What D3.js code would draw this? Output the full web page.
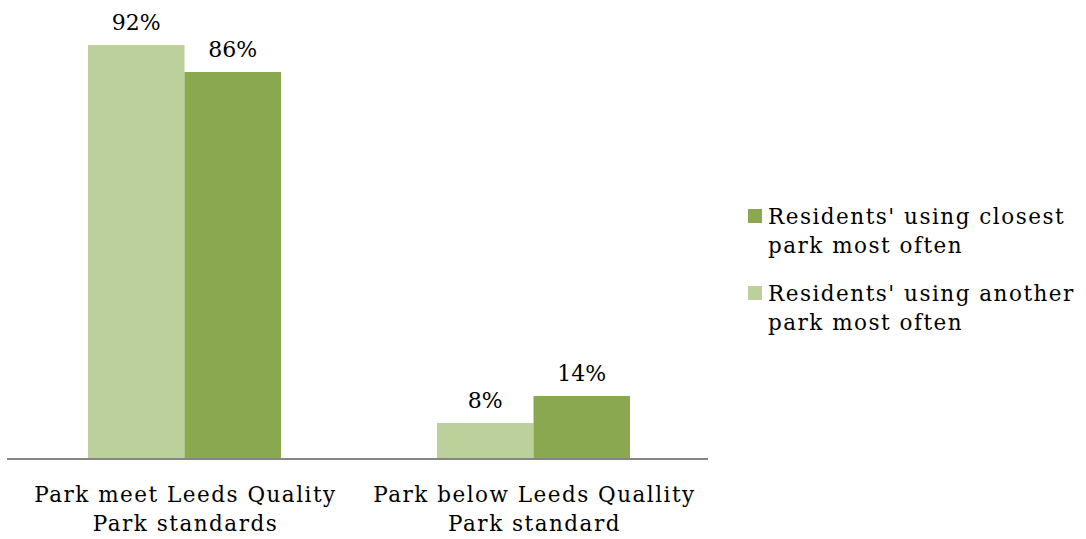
<!DOCTYPE html>
<html>
<head>
<meta charset="utf-8">
<script src="https://cdn.jsdelivr.net/npm/d3@7"></script>
<style>
  body { margin: 0; background: #fff; }
  text { font-family: "DejaVu Serif", serif; fill: #000; }
  .spaced { font-size: 21.5px; letter-spacing: 1.5px; }
</style>
</head>
<body>
<svg id="chart" width="1086" height="539"></svg>
<script>
const categories = [
	["Park meet Leeds Quality", "Park standards"],
	["Park below Leeds Quallity", "Park standard"]
];
const seriesNames = ["another", "closest"];
const anotherPark = [92, 8];
const closestPark = [86, 14];
const legendLabels = [
	["Residents' using closest", "park most often"],
	["Residents' using another", "park most often"]
];
const colors = { another: "#BBD09A", closest: "#8AA84F" };

const svg = d3.select("#chart");
const plot = { left: 10, right: 708, base: 459, top: 9 };

const x0 = d3.scaleBand().domain(d3.range(categories.length)).range([plot.left, plot.right]);
const x1 = d3.scaleBand().domain(seriesNames).range([78, 271]);
const y = d3.scaleLinear().domain([0, 100]).range([plot.base, plot.top]);

const rows = categories.map((c, i) => ({ i, another: anotherPark[i], closest: closestPark[i] }));

const groups = svg.append("g").selectAll("g")
	.data(rows)
	.join("g")
	.attr("transform", (d) => `translate(${x0(d.i)},0)`);

groups.selectAll("rect")
	.data((d) => seriesNames.map((s) => ({ s, v: d[s] })))
	.join("rect")
	.attr("x", (d) => x1(d.s))
	.attr("y", (d) => y(d.v))
	.attr("width", x1.bandwidth())
	.attr("height", (d) => plot.base - y(d.v))
	.attr("fill", (d) => colors[d.s]);

groups.selectAll("text.val")
	.data((d) => seriesNames.map((s) => ({ s, v: d[s] })))
	.join("text")
	.attr("class", "val")
	.attr("x", (d) => x1(d.s) + x1.bandwidth() / 2)
	.attr("y", (d) => y(d.v) - 15)
	.attr("text-anchor", "middle")
	.style("font-size", "22px")
	.text((d) => d.v + "%");

// axis baseline
svg.append("line")
	.attr("x1", plot.left - 3).attr("x2", plot.right)
	.attr("y1", plot.base).attr("y2", plot.base)
	.attr("stroke", "#868686").attr("stroke-width", 2);

// category labels
const catLabels = svg.append("g").selectAll("text")
	.data(categories)
	.join("text")
	.attr("class", "spaced")
	.attr("text-anchor", "middle")
	.attr("x", (d, i) => x0(i) + x0.bandwidth() / 2 + 1)
	.attr("y", 502);
catLabels.selectAll("tspan")
	.data((d) => d)
	.join("tspan")
	.attr("x", function () { return d3.select(this.parentNode).attr("x"); })
	.attr("dy", (d, i) => (i === 0 ? 0 : 29))
	.text((d) => d);

// legend
const legend = svg.append("g").selectAll("g")
	.data(["closest", "another"])
	.join("g")
	.attr("transform", (d, i) => `translate(748,${209 + i * 77})`);
legend.append("rect")
	.attr("width", 14).attr("height", 14)
	.attr("fill", (d) => colors[d]);
const legText = legend.append("text")
	.attr("class", "spaced")
	.attr("x", 20)
	.attr("y", 15);
legText.selectAll("tspan")
	.data((d, i) => legendLabels[i])
	.join("tspan")
	.attr("x", 20)
	.attr("dy", (d, i) => (i === 0 ? 0 : 29))
	.text((d) => d);
</script>
</body>
</html>
